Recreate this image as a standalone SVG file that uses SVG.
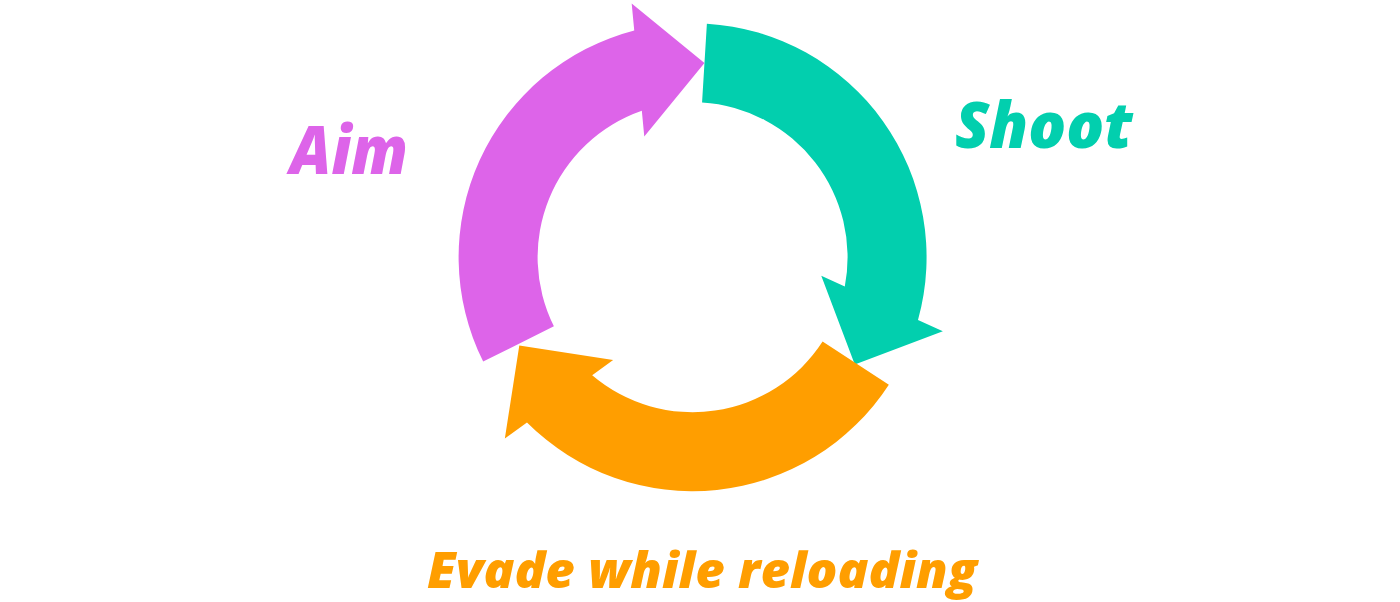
<svg xmlns="http://www.w3.org/2000/svg" width="1400" height="602" viewBox="0 0 1400 602">
  <style>
    .lbl { font-family: "Open Sans", "Noto Sans", "Liberation Sans", sans-serif; font-weight: 800; font-style: italic; }
    .aim { fill: #DD64E9; }
    .shoot { fill: #02CFAE; }
    .evade { fill: #FF9E00; }
  </style>
  <defs>
    <path id="arrow" d="M -117 -202.65 A 234 234 0 0 1 222.6 -72.07 L 249.6 -76.3 L 194.5 0 L 117.5 -55.6 L 143.07 -59.61 A 155 155 0 0 0 -77.5 -134.23 Z"/>
  </defs>
  <rect width="1400" height="602" fill="#ffffff"/>
  <g id="connectors">
    <use id="arrow-aim" href="#arrow" class="aim" transform="translate(692.6 257.2) rotate(-86.5)"/>
    <use id="arrow-shoot" href="#arrow" class="shoot" transform="translate(692.6 257.2) rotate(33.5)"/>
    <use id="arrow-evade" href="#arrow" class="evade" transform="translate(692.6 257.2) rotate(153)"/>
  </g>
  <g id="node-aim">
    <text class="lbl aim" x="290" y="174" font-size="68" textLength="118" lengthAdjust="spacingAndGlyphs">Aim</text>
  </g>
  <g id="node-shoot">
    <text class="lbl shoot" x="955" y="148" font-size="63" textLength="178" lengthAdjust="spacingAndGlyphs">Shoot</text>
  </g>
  <g id="node-evade">
    <text class="lbl evade" x="427" y="588" font-size="49" textLength="550" lengthAdjust="spacingAndGlyphs">Evade while reloading</text>
  </g>
</svg>
